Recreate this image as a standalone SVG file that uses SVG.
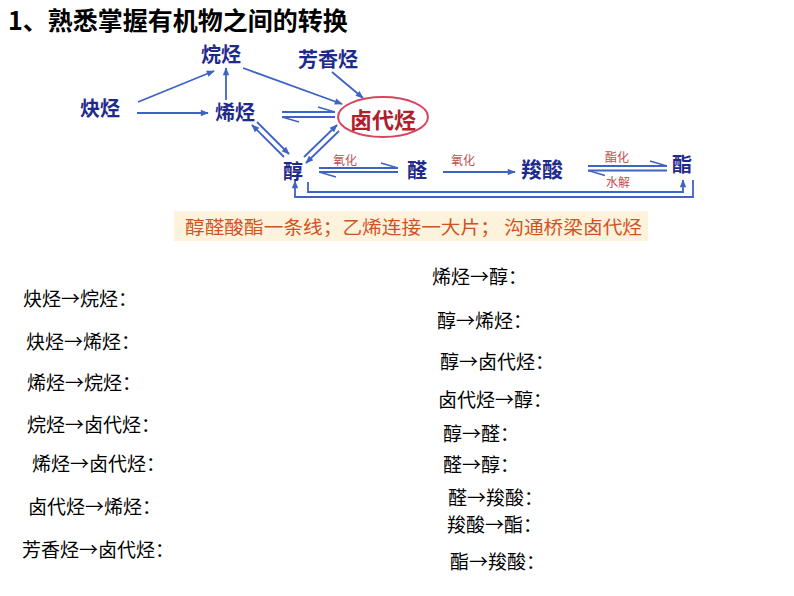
<svg xmlns="http://www.w3.org/2000/svg" width="794" height="596" viewBox="0 0 794 596">
<style>
.title{font-family:"Noto Sans CJK SC","Liberation Sans",sans-serif;font-weight:bold;font-size:25px;fill:#000;dominant-baseline:central}
.node{font-family:"Noto Sans CJK SC",sans-serif;font-weight:bold;fill:#1e2a8c;text-anchor:middle;dominant-baseline:central}
.red{fill:#b0202a}
.lbl{font-family:"Noto Sans CJK SC",sans-serif;font-size:12px;fill:#c0504d;text-anchor:middle;dominant-baseline:central}
.item{font-family:"Noto Sans CJK SC",sans-serif;font-size:19px;fill:#000;dominant-baseline:central}
.ban{font-family:"Noto Sans CJK SC",sans-serif;font-size:18px;fill:#d0521e;dominant-baseline:central}
.c{fill:none;stroke:#3f63c4;stroke-width:1.8}
</style>
<defs>
<marker id="ah" viewBox="0 0 10 10" refX="9" refY="5" markerWidth="9" markerHeight="8" markerUnits="userSpaceOnUse" orient="auto"><path d="M0,1 L10,5 L0,9 z" fill="#3f63c4"/></marker>
<marker id="hp" viewBox="0 0 18 8" refX="18" refY="7" markerWidth="18" markerHeight="8" markerUnits="userSpaceOnUse" orient="auto"><path d="M18,7 L1,2" stroke="#3f63c4" stroke-width="1.6" fill="none"/></marker>
</defs>
<rect width="794" height="596" fill="#fff"/>
<text class="title" x="8" y="19">1、熟悉掌握有机物之间的转换</text>

<g id="connectors">
<path class="c" d="M138,102 L214,71" marker-end="url(#ah)"/>
<path class="c" d="M137,113 L208,113" marker-end="url(#ah)"/>
<path class="c" d="M226,100 L226,68" marker-end="url(#ah)"/>
<path class="c" d="M243,68 L342,104" marker-end="url(#ah)"/>
<path class="c" d="M332,72 L363,98" marker-end="url(#ah)"/>
<path class="c" d="M282,112 L335,112" marker-end="url(#hp)"/>
<path class="c" d="M335,117 L282,117" marker-end="url(#hp)"/>
<path class="c" d="M284,157 L252,125" marker-end="url(#ah)"/>
<path class="c" d="M257,122 L289,154" marker-end="url(#ah)"/>
<path class="c" d="M304,157 L337,125" marker-end="url(#ah)"/>
<path class="c" d="M339,131 L306,163" marker-end="url(#ah)"/>
<path class="c" d="M319,168 L398,168" marker-end="url(#hp)"/>
<path class="c" d="M398,172 L319,172" marker-end="url(#hp)"/>
<path class="c" d="M443,172 L515,172" marker-end="url(#ah)"/>
<path class="c" d="M588,166 L667,166" marker-end="url(#hp)"/>
<path class="c" d="M667,170.5 L588,170.5" marker-end="url(#hp)"/>
<path class="c" d="M308,182 V192 H683 V180" marker-end="url(#ah)"/>
<path class="c" d="M693,180 V197 H295 V181" marker-end="url(#ah)"/>
<text class="lbl" x="345" y="159">氧化</text>
<text class="lbl" x="463" y="159">氧化</text>
<text class="lbl" x="617" y="156">酯化</text>
<text class="lbl" x="618" y="181">水解</text>
</g>

<g id="n-alkane"><text class="node" x="221" y="53" font-size="20">烷烃</text></g>
<g id="n-aromatic"><text class="node" x="328" y="58" font-size="20">芳香烃</text></g>
<g id="n-alkyne"><text class="node" x="100" y="107" font-size="20">炔烃</text></g>
<g id="n-alkene"><text class="node" x="235" y="111" font-size="20">烯烃</text></g>
<g id="n-halide"><ellipse cx="383" cy="117" rx="45" ry="20" fill="#fff" stroke="#d9455f" stroke-width="2"/><text class="node red" x="383" y="118" font-size="22">卤代烃</text></g>
<g id="n-alcohol"><text class="node" x="293" y="170" font-size="20">醇</text></g>
<g id="n-aldehyde"><text class="node" x="417" y="169" font-size="20">醛</text></g>
<g id="n-acid"><text class="node" x="542" y="168" font-size="21">羧酸</text></g>
<g id="n-ester"><text class="node" x="682" y="163" font-size="20">酯</text></g>

<g id="banner">
<rect x="174" y="211" width="474" height="30" fill="#fdf3dc"/>
<text class="ban" x="185" y="226" textLength="457" lengthAdjust="spacingAndGlyphs">醇醛酸酯一条线；乙烯连接一大片； 沟通桥梁卤代烃</text>
</g>

<g id="list-left">
<text class="item" x="23" y="297">炔烃→烷烃：</text>
<text class="item" x="26" y="340">炔烃→烯烃：</text>
<text class="item" x="27" y="381">烯烃→烷烃：</text>
<text class="item" x="27" y="423">烷烃→卤代烃：</text>
<text class="item" x="32" y="462">烯烃→卤代烃：</text>
<text class="item" x="28" y="505">卤代烃→烯烃：</text>
<text class="item" x="22" y="548">芳香烃→卤代烃：</text>
</g>
<g id="list-right">
<text class="item" x="432" y="275">烯烃→醇：</text>
<text class="item" x="437" y="319">醇→烯烃：</text>
<text class="item" x="440" y="360">醇→卤代烃：</text>
<text class="item" x="438" y="398">卤代烃→醇：</text>
<text class="item" x="443" y="432">醇→醛：</text>
<text class="item" x="443" y="463">醛→醇：</text>
<text class="item" x="448" y="496">醛→羧酸：</text>
<text class="item" x="447" y="523">羧酸→酯：</text>
<text class="item" x="450" y="560">酯→羧酸：</text>
</g>
</svg>
